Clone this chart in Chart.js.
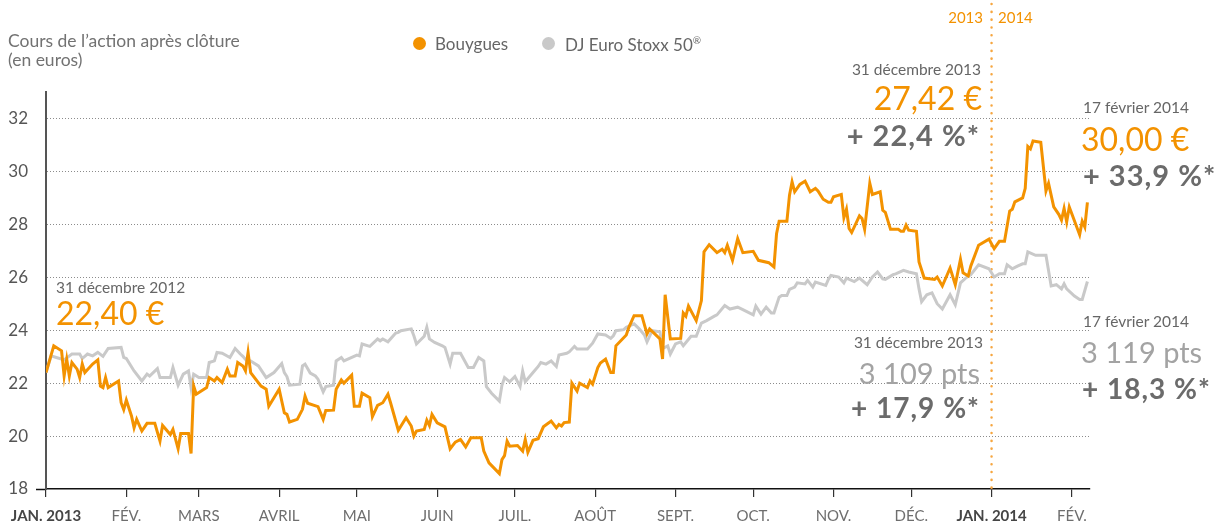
<!DOCTYPE html>
<html lang="fr">
<head>
<meta charset="utf-8">
<title>Cours de l'action Bouygues</title>
<script src="https://cdn.jsdelivr.net/npm/chart.js@4.4.0/dist/chart.umd.min.js"></script>
<style>
  body { margin: 0; background: #fff; }
  #wrap { position: relative; width: 1215px; height: 526px; font-family: Lato, "Open Sans", sans-serif; }
  #wrap canvas { position: absolute; left: 0; top: 0; }
  .t { position: absolute; line-height: 1; white-space: nowrap; }
  .grey { color: #666; }
  .orange { color: #f39200; }
  .light { color: #a3a3a3; }
  .pct { color: #6b6b6b; font-weight: bold; letter-spacing: 1px; }
  .dot { position: absolute; width: 13px; height: 13px; border-radius: 50%; }
</style>
</head>
<body>
<div id="wrap">
  <canvas id="coursChart" width="1215" height="526"></canvas>

  <div class="t grey" style="left:8px; top:32px; font-size:17.5px; color:#727272;">Cours de l’action après clôture</div>
  <div class="t grey" style="left:8px; top:51px; font-size:17.5px; color:#727272;">(en euros)</div>

  <div class="dot" style="left:413px; top:37px; background:#f39200;"></div>
  <div class="t grey" style="left:435px; top:35px; font-size:17px;">Bouygues</div>
  <div class="dot" style="left:542px; top:37px; background:#c9c9c9;"></div>
  <div class="t grey" style="left:565px; top:35px; font-size:17px;">DJ Euro Stoxx 50<sup style="font-size:10px;">®</sup></div>

  <div class="t orange" style="right:232px; top:10px; font-size:15px;">2013</div>
  <div class="t orange" style="left:998px; top:10px; font-size:15px;">2014</div>

  <div class="t grey" style="right:234px; top:62px; font-size:15.5px;">31 décembre 2013</div>
  <div class="t orange" style="right:233px; top:82px; font-size:32px;">27,42 €</div>
  <div class="t pct" style="right:235px; top:120px; font-size:29px;">+ 22,4 %*</div>

  <div class="t grey" style="left:1083px; top:100px; font-size:15.5px;">17 février 2014</div>
  <div class="t orange" style="left:1081px; top:123px; font-size:32px;">30,00 €</div>
  <div class="t pct" style="left:1083px; top:160px; font-size:29px;">+ 33,9 %*</div>

  <div class="t grey" style="left:56px; top:280px; font-size:15.5px;">31 décembre 2012</div>
  <div class="t orange" style="left:56px; top:297px; font-size:32px;">22,40 €</div>

  <div class="t grey" style="right:232px; top:335px; font-size:15.5px;">31 décembre 2013</div>
  <div class="t light" style="right:235px; top:358px; font-size:29px;">3 109 pts</div>
  <div class="t pct" style="right:235px; top:393px; font-size:28px;">+ 17,9 %*</div>

  <div class="t grey" style="left:1083px; top:314px; font-size:15.5px;">17 février 2014</div>
  <div class="t light" style="left:1081px; top:337px; font-size:29px;">3 119 pts</div>
  <div class="t pct" style="left:1082px; top:374px; font-size:28px;">+ 18,3 %*</div>
</div>

<script>
// Axis labels (x = days since 1 Jan 2013)
const monthDays = [0, 31, 59, 90, 120, 151, 181, 212, 243, 273, 304, 334, 365, 396];
const monthLabels = ['JAN. 2013', 'FÉV.', 'MARS', 'AVRIL', 'MAI', 'JUIN', 'JUIL.', 'AOÛT', 'SEPT.', 'OCT.', 'NOV.', 'DÉC.', 'JAN. 2014', 'FÉV.'];
const yTicks = [18, 20, 22, 24, 26, 28, 30, 32];
const yearChangeDay = 365;

// Bouygues, cours en euros
const bouyguesDays = [0, 3, 6, 7, 8, 9, 10, 12, 13, 14, 15, 18, 20, 21, 22, 23, 24, 28, 29, 30, 31, 33, 34, 35, 37, 39, 42, 44, 45, 48, 49, 51, 52, 55, 56, 57, 58, 62, 63, 65, 66, 68, 70, 71, 73, 74, 76, 77, 78, 79, 83, 85, 86, 90, 92, 93, 94, 97, 99, 100, 101, 105, 107, 108, 111, 112, 114, 115, 118, 119, 121, 122, 125, 126, 128, 130, 132, 133, 136, 139, 141, 142, 143, 146, 147, 148, 149, 151, 154, 156, 158, 160, 162, 164, 168, 169, 171, 175, 176, 177, 178, 179, 182, 184, 185, 186, 188, 190, 192, 195, 197, 198, 199, 200, 202, 203, 205, 206, 209, 210, 211, 213, 214, 216, 218, 219, 220, 224, 225, 227, 230, 232, 233, 235, 237, 238, 239, 241, 245, 246, 247, 248, 251, 253, 254, 256, 259, 261, 262, 263, 265, 267, 269, 273, 275, 279, 281, 282, 283, 286, 287, 288, 289, 291, 293, 295, 297, 298, 300, 302, 303, 304, 307, 308, 309, 310, 311, 314, 315, 316, 318, 319, 322, 323, 324, 326, 329, 330, 331, 332, 333, 336, 337, 339, 343, 344, 346, 349, 351, 353, 354, 356, 357, 360, 364, 366, 368, 370, 372, 373, 374, 377, 378, 379, 380, 381, 384, 386, 387, 389, 391, 392, 393, 394, 395, 399, 400, 401, 402];
const bouyguesValues = [22.40, 23.41, 23.22, 22.27, 22.90, 22.27, 22.78, 22.53, 22.21, 22.72, 22.40, 22.72, 22.88, 21.89, 21.83, 22.21, 21.83, 22.08, 21.26, 21.00, 21.36, 20.76, 20.31, 20.63, 20.19, 20.48, 20.48, 19.81, 20.40, 20.06, 20.25, 19.52, 20.10, 20.10, 19.34, 21.89, 21.58, 21.83, 22.21, 22.08, 22.21, 22.02, 22.53, 22.27, 22.27, 22.78, 22.65, 22.46, 23.16, 22.40, 21.89, 21.77, 21.13, 21.77, 20.88, 20.82, 20.53, 20.63, 21.01, 21.51, 21.24, 21.11, 20.63, 20.97, 20.98, 21.77, 22.12, 22.00, 22.30, 21.13, 21.13, 21.62, 21.45, 20.73, 21.16, 21.26, 21.58, 21.26, 20.22, 20.69, 20.38, 20.00, 20.19, 20.25, 20.60, 20.40, 20.82, 20.50, 20.35, 19.52, 19.77, 19.87, 19.59, 19.94, 19.94, 19.43, 18.99, 18.58, 19.11, 19.26, 19.81, 19.62, 19.64, 19.43, 19.87, 19.39, 19.84, 19.90, 20.35, 20.57, 20.31, 20.44, 20.38, 20.51, 20.53, 22.00, 21.70, 22.00, 21.83, 22.08, 21.96, 22.59, 22.76, 22.91, 22.40, 22.40, 23.41, 23.82, 24.11, 24.55, 24.55, 23.86, 24.05, 23.86, 23.67, 22.91, 25.34, 23.67, 23.69, 24.65, 24.53, 24.91, 24.36, 25.12, 26.96, 27.23, 26.93, 27.06, 26.93, 27.21, 26.64, 27.46, 26.93, 26.98, 26.64, 26.55, 26.39, 27.65, 28.12, 28.12, 29.10, 29.61, 29.23, 29.51, 29.63, 29.23, 29.36, 29.26, 28.95, 28.83, 28.83, 29.04, 29.13, 28.25, 28.57, 27.84, 27.69, 28.32, 28.22, 27.81, 29.55, 29.13, 29.23, 28.53, 28.45, 27.81, 27.81, 27.74, 27.74, 27.97, 27.78, 27.74, 26.58, 25.97, 25.92, 26.01, 25.67, 26.35, 25.72, 26.68, 26.17, 26.05, 26.43, 27.21, 27.44, 27.08, 27.36, 27.36, 28.50, 28.57, 28.85, 29.00, 29.36, 30.94, 30.85, 31.15, 31.10, 29.26, 29.55, 28.66, 28.37, 28.16, 28.60, 28.09, 28.66, 27.61, 28.12, 27.90, 28.83];

// DJ Euro Stoxx 50, rebasé sur le cours Bouygues au 31/12/2012
const stoxxDays = [0, 2, 4, 7, 10, 13, 14, 16, 18, 20, 22, 24, 29, 30, 31, 34, 37, 39, 40, 43, 44, 46, 48, 49, 51, 53, 55, 56, 57, 59, 62, 63, 65, 66, 68, 71, 73, 75, 76, 78, 79, 82, 85, 88, 91, 92, 93, 94, 98, 99, 100, 102, 104, 105, 107, 108, 111, 112, 114, 115, 120, 121, 122, 125, 128, 129, 130, 132, 135, 136, 137, 141, 142, 143, 146, 147, 148, 150, 153, 154, 156, 157, 160, 163, 165, 167, 169, 170, 172, 175, 176, 177, 179, 181, 183, 184, 185, 188, 190, 191, 193, 195, 197, 198, 201, 202, 204, 205, 209, 211, 213, 216, 218, 219, 220, 223, 224, 227, 229, 231, 232, 234, 237, 238, 240, 241, 243, 245, 246, 249, 251, 253, 255, 258, 259, 262, 264, 267, 269, 273, 274, 276, 278, 280, 281, 283, 284, 286, 287, 289, 290, 293, 294, 296, 297, 301, 302, 303, 306, 308, 309, 312, 314, 317, 319, 321, 323, 324, 327, 328, 331, 333, 336, 337, 338, 340, 342, 344, 346, 349, 351, 353, 355, 357, 360, 364, 366, 368, 370, 371, 373, 375, 377, 378, 379, 382, 386, 388, 390, 392, 393, 394, 397, 399, 400, 402];
const stoxxValues = [22.40, 23.03, 22.97, 22.88, 23.10, 23.10, 22.93, 23.10, 23.03, 23.16, 23.01, 23.31, 23.35, 22.97, 22.93, 22.46, 22.08, 22.34, 22.27, 22.55, 22.21, 22.21, 22.21, 22.59, 21.92, 22.34, 22.46, 21.83, 22.34, 22.21, 22.21, 22.78, 22.84, 23.16, 23.13, 22.97, 23.31, 23.10, 23.01, 22.78, 22.84, 22.65, 22.21, 22.40, 22.74, 22.40, 22.25, 21.92, 21.96, 22.65, 22.72, 22.38, 22.27, 22.15, 21.67, 21.87, 21.92, 22.84, 22.97, 22.84, 23.06, 23.03, 23.48, 23.39, 23.67, 23.60, 23.67, 23.56, 23.89, 23.92, 23.98, 24.05, 23.79, 23.48, 23.77, 24.11, 23.67, 23.54, 23.41, 23.35, 22.72, 23.13, 23.13, 22.59, 22.59, 22.97, 22.84, 21.87, 21.62, 21.32, 21.92, 22.21, 22.05, 22.25, 21.87, 22.46, 22.05, 22.40, 22.63, 22.78, 22.72, 22.84, 22.63, 23.06, 23.13, 23.18, 23.39, 23.29, 23.29, 23.51, 23.86, 23.82, 23.69, 23.79, 23.98, 24.02, 24.11, 24.24, 24.05, 23.82, 23.56, 23.98, 23.94, 23.31, 23.41, 23.10, 23.48, 23.56, 23.41, 23.77, 23.77, 24.27, 24.36, 24.53, 24.58, 24.93, 24.80, 24.87, 24.78, 24.58, 24.91, 24.61, 24.87, 24.65, 24.65, 25.25, 25.31, 25.31, 25.54, 25.63, 25.79, 25.75, 25.88, 25.63, 25.82, 25.69, 25.92, 26.07, 26.01, 25.79, 25.97, 25.84, 25.97, 25.72, 26.01, 26.20, 25.94, 25.92, 26.10, 26.13, 26.26, 26.20, 26.13, 25.56, 25.08, 25.34, 25.41, 25.00, 24.80, 25.34, 24.96, 25.79, 25.97, 26.10, 26.47, 26.32, 26.01, 26.13, 26.13, 26.47, 26.32, 26.42, 26.51, 26.51, 26.96, 26.83, 26.83, 25.67, 25.72, 25.56, 25.75, 25.56, 25.29, 25.16, 25.16, 25.84];

function toPoints(days, values) {
  return days.map((d, i) => ({ x: d, y: values[i] }));
}

// Orange dotted separator 2013 | 2014
const yearLine = {
  id: 'yearLine',
  beforeDatasetsDraw(chart) {
    const c = chart.ctx;
    const x = chart.scales.x.getPixelForValue(yearChangeDay);
    c.save();
    c.strokeStyle = '#f6a640';
    c.lineWidth = 2.5;
    c.lineCap = 'round';
    c.setLineDash([0.1, 7.7]);
    c.beginPath();
    c.moveTo(x, 4);
    c.lineTo(x, chart.chartArea.bottom);
    c.stroke();
    c.restore();
  }
};

const ctx = document.getElementById('coursChart').getContext('2d');
const chart = new Chart(ctx, {
  type: 'line',
  data: {
    datasets: [
      {
        label: 'Bouygues',
        data: toPoints(bouyguesDays, bouyguesValues),
        borderColor: '#f39200',
        borderWidth: 3,
        pointRadius: 0,
        tension: 0
      },
      {
        label: 'DJ Euro Stoxx 50®',
        data: toPoints(stoxxDays, stoxxValues),
        borderColor: '#c9c9c9',
        borderWidth: 3,
        pointRadius: 0,
        tension: 0
      }
    ]
  },
  options: {
    responsive: false,
    animation: false,
    events: [],
    layout: { padding: { top: 92, right: 125, left: 0, bottom: 0 } },
    plugins: {
      legend: { display: false },
      tooltip: { enabled: false }
    },
    scales: {
      x: {
        type: 'linear',
        min: 0,
        max: 403,
        afterBuildTicks: (s) => { s.ticks = monthDays.map((v) => ({ value: v })); },
        afterFit: (s) => { s.height = 37; },
        grid: { drawOnChartArea: false, drawTicks: true, tickLength: 8, color: '#333', lineWidth: 1.2 },
        border: { color: '#111', width: 1.5 },
        ticks: {
          autoSkip: false,
          maxRotation: 0,
          padding: 10,
          callback: (v, i) => monthLabels[i],
          color: (c) => (c.index === 0 || c.index === 12) ? '#454545' : '#6e6e6e',
          font: (c) => ({
            family: 'Lato',
            size: 15,
            weight: (c.index === 0 || c.index === 12) ? 'bold' : 'normal'
          })
        }
      },
      y: {
        min: 18,
        max: 33,
        afterBuildTicks: (s) => { s.ticks = yTicks.map((v) => ({ value: v })); },
        afterFit: (s) => { s.width = 46; },
        grid: {
          drawTicks: true,
          tickLength: 10,
          color: (c) => (c.tick && c.tick.value === 18) ? 'rgba(0,0,0,0)' : '#8c8c8c',
          tickColor: (c) => (c.tick && c.tick.value === 18) ? '#111' : 'rgba(0,0,0,0)',
          tickWidth: 1.5,
          lineWidth: 1
        },
        border: { color: '#555', width: 2, dash: [1, 2] },
        ticks: { padding: 8, color: '#555', font: { family: 'Lato', size: 17 } }
      }
    }
  },
  plugins: [yearLine]
});
</script>
</body>
</html>
